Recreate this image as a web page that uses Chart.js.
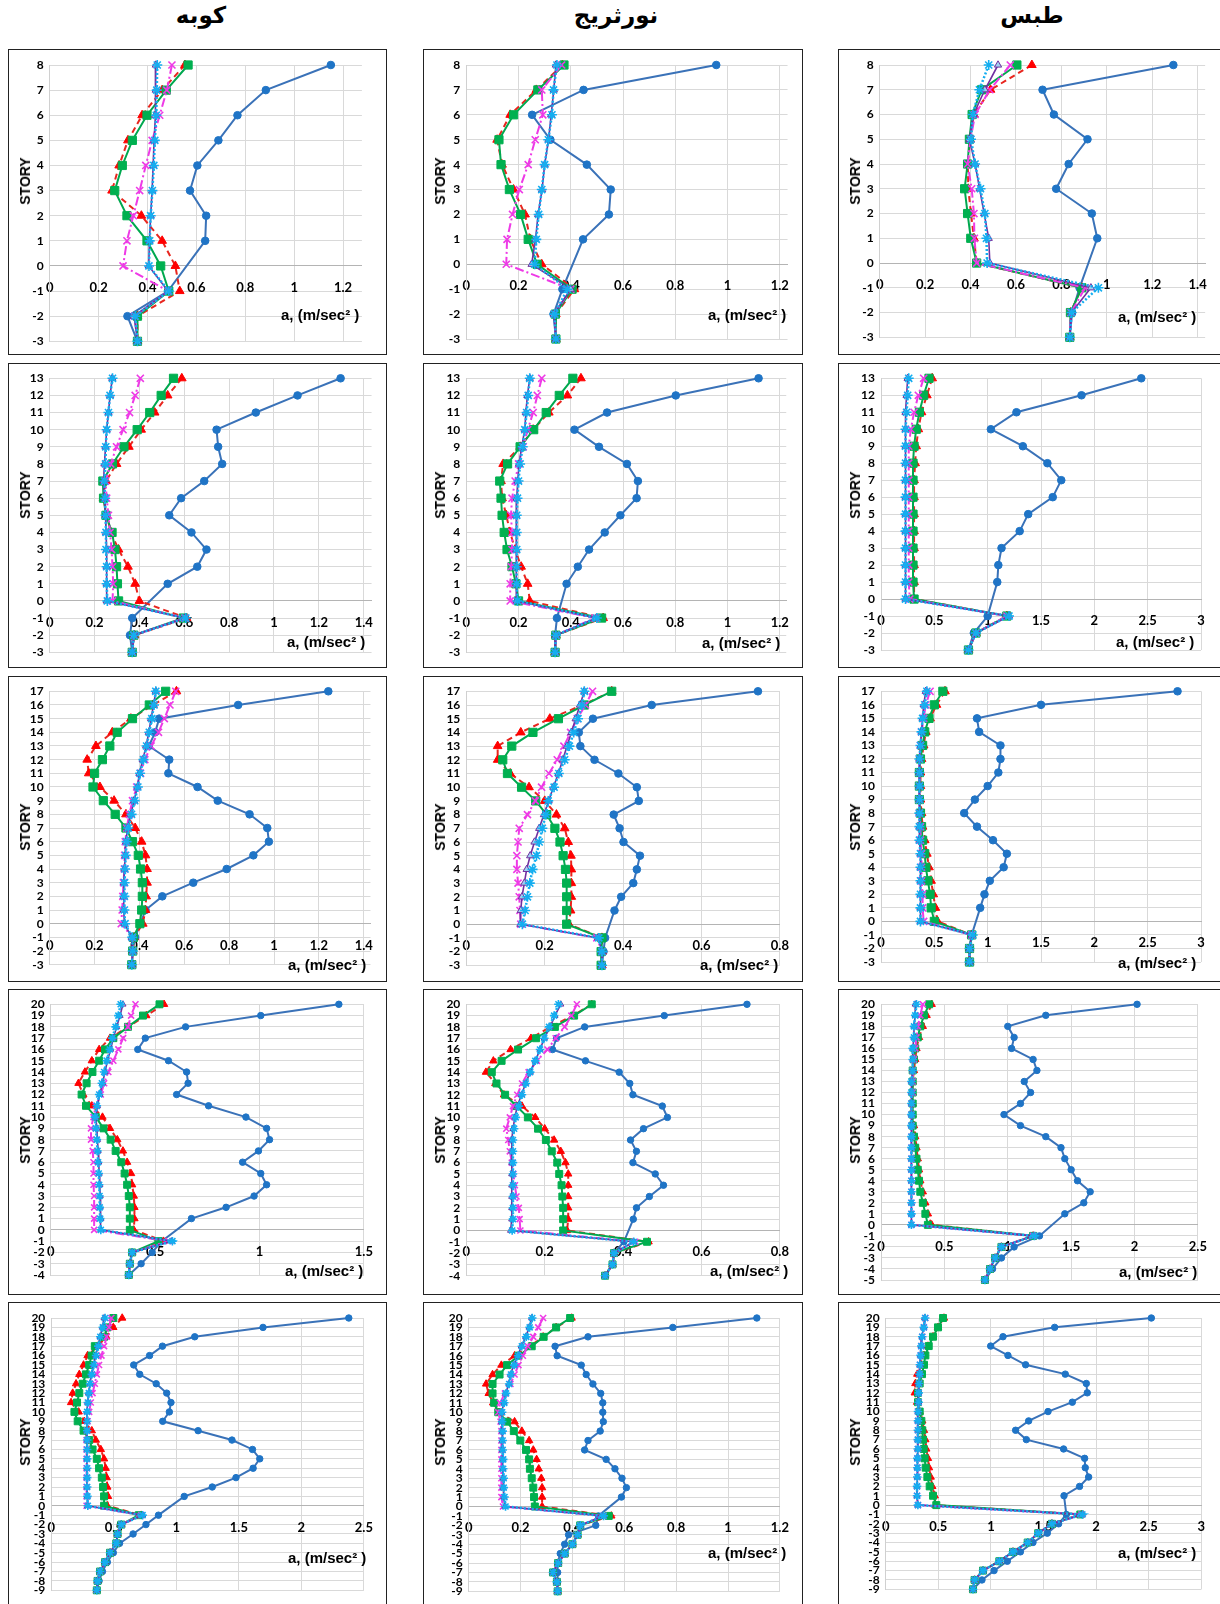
<!DOCTYPE html>
<html>
<head>
<meta charset="utf-8">
<script src="https://cdn.jsdelivr.net/npm/chart.js@4.4.1/dist/chart.umd.min.js"></script>
<style>
  body { margin: 0; background: #fff; }
  #page { position: relative; width: 1220px; height: 1604px; overflow: hidden; background: #fff; }
  .head { position: absolute; top: 2px; font: bold 23px "DejaVu Sans", sans-serif; transform: translateX(-50%); white-space: nowrap; }
  .panel { position: absolute; outline: 1px solid #222; outline-offset: -1px; }
  .panel canvas { position: absolute; left: 0; top: 0; }
  .story { position: absolute; font: bold 14px "Liberation Sans", Arial, sans-serif; transform: translate(-50%, -50%) rotate(-90deg); white-space: nowrap; }
  .unit { position: absolute; font: bold 15px "Liberation Sans", Arial, sans-serif; transform: translateY(-50%); white-space: nowrap; }
</style>
</head>
<body>
<div id="page"></div>
<script>
// story levels, listed from roof down to the lowest basement
const stories8 = [8, 7, 6, 5, 4, 3, 2, 1, 0, -1, -2, -3];
const stories13 = [13, 12, 11, 10, 9, 8, 7, 6, 5, 4, 3, 2, 1, 0, -1, -2, -3];
const stories17 = [17, 16, 15, 14, 13, 12, 11, 10, 9, 8, 7, 6, 5, 4, 3, 2, 1, 0, -1, -2, -3];
const stories20 = [20, 19, 18, 17, 16, 15, 14, 13, 12, 11, 10, 9, 8, 7, 6, 5, 4, 3, 2, 1, 0, -1, -2, -3, -4];
const stories20t = [20, 19, 18, 17, 16, 15, 14, 13, 12, 11, 10, 9, 8, 7, 6, 5, 4, 3, 2, 1, 0, -1, -2, -3, -4, -5];
const stories20b = [20, 19, 18, 17, 16, 15, 14, 13, 12, 11, 10, 9, 8, 7, 6, 5, 4, 3, 2, 1, 0, -1, -2, -3, -4, -5, -6, -7, -8, -9];

// acceleration tick labels
const ticks08 = [0, 0.2, 0.4, 0.6, 0.8];
const ticks12 = [0, 0.2, 0.4, 0.6, 0.8, 1, 1.2];
const ticks14 = [0, 0.2, 0.4, 0.6, 0.8, 1, 1.2, 1.4];
const ticks15 = [0, 0.5, 1, 1.5];
const ticks25 = [0, 0.5, 1, 1.5, 2, 2.5];
const ticks30 = [0, 0.5, 1, 1.5, 2, 2.5, 3];

// Kobe, 8 storeys
const kobe8Circle = [1.15, 0.884, 0.768, 0.69, 0.604, 0.574, 0.64, 0.636, null, 0.484, 0.318, 0.359];
const kobe8Tri = [0.553, 0.46, 0.378, 0.32, 0.284, 0.255, 0.375, 0.46, 0.514, 0.532, 0.359, 0.359];
const kobe8Square = [0.566, 0.477, 0.398, 0.338, 0.297, 0.266, 0.316, 0.398, 0.454, 0.487, 0.359, 0.359];
const kobe8Cross = [0.5, 0.479, 0.45, 0.419, 0.393, 0.368, 0.342, 0.316, 0.3, 0.484, 0.348, 0.359];
const kobe8Line = [0.434, 0.434, 0.431, 0.427, 0.423, 0.419, 0.413, 0.408, 0.405, 0.484, 0.345, 0.359];
const kobe8Star = [0.44, 0.438, 0.436, 0.43, 0.426, 0.42, 0.413, 0.409, 0.406, 0.487, 0.35, 0.359];

// Northridge, 8 storeys
const north8Circle = [0.957, 0.449, 0.252, 0.322, 0.4615, 0.553, 0.546, 0.447, null, 0.368, 0.334, 0.343];
const north8Tri = [0.368, 0.268, 0.168, 0.118, 0.137, 0.181, 0.225, 0.245, 0.289, 0.414, 0.343, 0.343];
const north8Square = [0.374, 0.274, 0.181, 0.125, 0.133, 0.165, 0.208, 0.237, 0.271, 0.405, 0.341, 0.343];
const north8Cross = [0.365, 0.289, 0.293, 0.264, 0.237, 0.203, 0.177, 0.156, 0.153, 0.4, 0.338, 0.343];
const north8Line = [0.343, 0.335, 0.325, 0.315, 0.3, 0.29, 0.275, 0.265, 0.25, 0.4, 0.335, 0.343];
const north8Star = [0.347, 0.334, 0.328, 0.314, 0.3, 0.289, 0.277, 0.268, 0.262, 0.387, 0.338, 0.343];

// Tabas, 8 storeys
const tabas8Circle = [1.293, 0.717, 0.767, 0.915, 0.832, 0.777, 0.934, 0.958, null, 0.88, 0.847, 0.837];
const tabas8Tri = [0.67, 0.488, 0.415, 0.398, 0.388, 0.39, 0.402, 0.415, 0.427, 0.89, 0.84, 0.837];
const tabas8Square = [0.604, 0.449, 0.407, 0.395, 0.387, 0.374, 0.387, 0.401, 0.427, 0.89, 0.84, 0.837];
const tabas8Cross = [0.575, 0.485, 0.42, 0.4, 0.387, 0.405, 0.415, 0.417, 0.427, 0.905, 0.842, 0.837];
const tabas8Line = [0.521, 0.463, 0.413, 0.395, 0.42, 0.44, 0.46, 0.48, 0.485, 0.93, 0.845, 0.837];
const tabas8Star = [0.48, 0.439, 0.41, 0.402, 0.42, 0.444, 0.463, 0.47, 0.473, 0.963, 0.845, 0.837];

// Kobe, 13 storeys
const kobe13Circle = [1.297, 1.105, 0.919, 0.744, 0.751, 0.769, 0.689, 0.586, 0.533, 0.632, 0.699, 0.658, 0.526, null, 0.368, 0.358, 0.368];
const kobe13Tri = [0.589, 0.526, 0.468, 0.408, 0.353, 0.298, 0.251, 0.24, 0.254, 0.273, 0.307, 0.349, 0.381, 0.4, 0.61, 0.378, 0.368];
const kobe13Square = [0.552, 0.497, 0.446, 0.39, 0.331, 0.28, 0.237, 0.24, 0.251, 0.278, 0.291, 0.298, 0.302, 0.307, 0.596, 0.375, 0.368];
const kobe13Cross = [0.404, 0.381, 0.356, 0.327, 0.298, 0.272, 0.249, 0.254, 0.262, 0.269, 0.276, 0.28, 0.283, 0.28, 0.603, 0.375, 0.368];
const kobe13Line = [0.279, 0.269, 0.262, 0.254, 0.249, 0.244, 0.24, 0.244, 0.249, 0.251, 0.254, 0.254, 0.254, 0.254, 0.603, 0.375, 0.368];
const kobe13Star = [0.28, 0.269, 0.262, 0.254, 0.25, 0.249, 0.244, 0.247, 0.249, 0.251, 0.251, 0.254, 0.254, 0.257, 0.607, 0.375, 0.368];

// Northridge, 13 storeys
const north13Circle = [1.119, 0.802, 0.539, 0.414, 0.508, 0.615, 0.657, 0.652, 0.59, 0.53, 0.47, 0.427, 0.384, null, 0.347, 0.34, 0.34];
const north13Tri = [0.439, 0.387, 0.316, 0.256, 0.206, 0.141, 0.133, 0.137, 0.153, 0.168, 0.187, 0.21, 0.235, 0.243, 0.524, 0.343, 0.34];
const north13Square = [0.408, 0.356, 0.306, 0.258, 0.206, 0.158, 0.128, 0.133, 0.137, 0.145, 0.156, 0.175, 0.19, 0.2, 0.518, 0.343, 0.34];
const north13Cross = [0.289, 0.272, 0.256, 0.235, 0.218, 0.2, 0.187, 0.175, 0.171, 0.175, 0.175, 0.172, 0.168, 0.168, 0.493, 0.343, 0.34];
const north13Line = [0.243, 0.234, 0.228, 0.224, 0.212, 0.202, 0.197, 0.193, 0.191, 0.191, 0.191, 0.191, 0.191, 0.193, 0.497, 0.343, 0.34];
const north13Star = [0.243, 0.237, 0.231, 0.224, 0.216, 0.206, 0.2, 0.196, 0.193, 0.193, 0.193, 0.193, 0.193, 0.196, 0.5, 0.343, 0.34];

// Tabas, 13 storeys
const tabas13Circle = [2.44, 1.88, 1.27, 1.03, 1.33, 1.56, 1.69, 1.61, 1.38, 1.3, 1.13, 1.1, 1.09, null, 1.0, 0.87, 0.82];
const tabas13Tri = [0.48, 0.43, 0.38, 0.35, 0.33, 0.32, 0.31, 0.31, 0.31, 0.31, 0.31, 0.31, 0.31, 0.31, 1.18, 0.89, 0.82];
const tabas13Square = [0.45, 0.4, 0.36, 0.33, 0.31, 0.3, 0.3, 0.3, 0.3, 0.3, 0.3, 0.3, 0.3, 0.31, 1.18, 0.89, 0.82];
const tabas13Cross = [0.4, 0.35, 0.31, 0.28, 0.26, 0.26, 0.26, 0.26, 0.26, 0.26, 0.26, 0.26, 0.26, 0.27, 1.18, 0.89, 0.82];
const tabas13Line = [0.25, 0.24, 0.23, 0.23, 0.23, 0.23, 0.23, 0.23, 0.23, 0.23, 0.23, 0.23, 0.23, 0.23, 1.2, 0.89, 0.82];
const tabas13Star = [0.26, 0.25, 0.24, 0.23, 0.23, 0.23, 0.23, 0.23, 0.23, 0.23, 0.23, 0.23, 0.23, 0.23, 1.2, 0.89, 0.82];

// Kobe, 17 storeys
const kobe17Circle = [1.242, 0.84, 0.488, 0.47, 0.442, 0.533, 0.529, 0.659, 0.749, 0.891, 0.97, 0.977, 0.908, 0.789, 0.64, 0.502, 0.427, null, 0.381, 0.369, 0.366];
const kobe17Tri = [0.565, 0.46, 0.362, 0.279, 0.206, 0.167, 0.174, 0.224, 0.287, 0.34, 0.381, 0.41, 0.427, 0.434, 0.434, 0.43, 0.427, 0.415, 0.376, 0.37, 0.366];
const kobe17Square = [0.517, 0.444, 0.369, 0.301, 0.268, 0.235, 0.2, 0.193, 0.239, 0.292, 0.34, 0.369, 0.395, 0.405, 0.413, 0.413, 0.41, 0.402, 0.373, 0.37, 0.366];
const kobe17Cross = [0.562, 0.536, 0.511, 0.485, 0.452, 0.424, 0.405, 0.388, 0.369, 0.355, 0.343, 0.337, 0.334, 0.333, 0.329, 0.326, 0.323, 0.319, 0.369, 0.37, 0.366];
const kobe17Line = [0.473, 0.463, 0.452, 0.442, 0.43, 0.415, 0.4, 0.391, 0.376, 0.362, 0.347, 0.34, 0.337, 0.333, 0.33, 0.33, 0.33, 0.333, 0.366, 0.37, 0.366];
const kobe17Star = [0.473, 0.465, 0.455, 0.444, 0.432, 0.418, 0.403, 0.393, 0.379, 0.365, 0.35, 0.343, 0.339, 0.336, 0.334, 0.333, 0.333, 0.336, 0.368, 0.37, 0.366];

// Northridge, 17 storeys
const north17Circle = [0.744, 0.473, 0.323, 0.287, 0.291, 0.327, 0.388, 0.435, 0.44, 0.376, 0.391, 0.401, 0.443, 0.435, 0.426, 0.395, 0.378, null, 0.354, 0.35, 0.346];
const north17Tri = [0.371, 0.297, 0.213, 0.139, 0.08, 0.08, 0.112, 0.16, 0.2, 0.23, 0.251, 0.26, 0.267, 0.268, 0.268, 0.268, 0.266, 0.262, 0.346, 0.346, 0.346];
const north17Square = [0.371, 0.301, 0.235, 0.17, 0.116, 0.093, 0.105, 0.141, 0.177, 0.205, 0.226, 0.239, 0.247, 0.253, 0.256, 0.256, 0.256, 0.256, 0.346, 0.344, 0.344];
const north17Cross = [0.322, 0.304, 0.283, 0.266, 0.249, 0.232, 0.211, 0.192, 0.176, 0.156, 0.135, 0.132, 0.129, 0.129, 0.132, 0.135, 0.137, 0.139, 0.333, 0.346, 0.346];
const north17Line = [0.301, 0.29, 0.279, 0.268, 0.257, 0.246, 0.235, 0.222, 0.21, 0.198, 0.186, 0.174, 0.163, 0.154, 0.148, 0.142, 0.139, 0.138, 0.336, 0.346, 0.346];
const north17Star = [0.301, 0.295, 0.285, 0.274, 0.263, 0.251, 0.236, 0.224, 0.209, 0.203, 0.194, 0.186, 0.179, 0.169, 0.162, 0.156, 0.15, 0.143, 0.338, 0.346, 0.346];

// Tabas, 17 storeys
const tabas17Circle = [2.78, 1.5, 0.9, 0.92, 1.12, 1.12, 1.1, 1.0, 0.88, 0.78, 0.9, 1.05, 1.18, 1.15, 1.02, 0.97, 0.93, null, 0.85, 0.83, 0.83];
const tabas17Tri = [0.6, 0.52, 0.46, 0.42, 0.4, 0.38, 0.37, 0.37, 0.37, 0.38, 0.39, 0.41, 0.43, 0.45, 0.47, 0.49, 0.51, 0.53, 0.85, 0.83, 0.83];
const tabas17Square = [0.58, 0.5, 0.45, 0.41, 0.39, 0.37, 0.36, 0.36, 0.36, 0.37, 0.38, 0.39, 0.41, 0.42, 0.44, 0.46, 0.47, 0.5, 0.85, 0.83, 0.83];
const tabas17Cross = [0.46, 0.42, 0.4, 0.38, 0.37, 0.36, 0.36, 0.36, 0.36, 0.36, 0.37, 0.37, 0.38, 0.38, 0.38, 0.39, 0.39, 0.4, 0.85, 0.83, 0.83];
const tabas17Line = [0.42, 0.4, 0.39, 0.38, 0.37, 0.36, 0.36, 0.36, 0.36, 0.36, 0.36, 0.36, 0.37, 0.37, 0.37, 0.37, 0.37, 0.37, 0.85, 0.83, 0.83];
const tabas17Star = [0.43, 0.41, 0.39, 0.38, 0.37, 0.36, 0.36, 0.36, 0.36, 0.36, 0.36, 0.36, 0.37, 0.37, 0.37, 0.37, 0.37, 0.37, 0.86, 0.83, 0.83];

// Kobe, 20 storeys with 4 basements
const kobe20Circle = [1.38, 1.006, 0.646, 0.453, 0.417, 0.564, 0.651, 0.658, 0.603, 0.756, 0.935, 1.034, 1.048, 0.995, 0.919, 1.006, 1.034, 0.974, 0.84, 0.674, null, 0.532, 0.486, 0.433, 0.374];
const kobe20Tri = [0.543, 0.458, 0.37, 0.284, 0.232, 0.197, 0.164, 0.133, 0.156, 0.197, 0.248, 0.284, 0.319, 0.346, 0.366, 0.385, 0.39, 0.398, 0.401, 0.401, 0.398, 0.54, 0.39, 0.379, 0.374];
const kobe20Square = [0.521, 0.442, 0.37, 0.3, 0.26, 0.232, 0.2, 0.172, 0.148, 0.169, 0.216, 0.253, 0.287, 0.311, 0.338, 0.354, 0.366, 0.374, 0.379, 0.379, 0.379, 0.516, 0.39, 0.379, 0.374];
const kobe20Cross = [0.406, 0.385, 0.37, 0.347, 0.324, 0.3, 0.276, 0.256, 0.24, 0.216, 0.205, 0.193, 0.193, 0.201, 0.205, 0.205, 0.205, 0.208, 0.208, 0.208, 0.208, 0.564, 0.39, 0.379, 0.374];
const kobe20Line = [0.346, 0.332, 0.316, 0.3, 0.287, 0.272, 0.26, 0.248, 0.235, 0.224, 0.216, 0.221, 0.224, 0.227, 0.23, 0.232, 0.235, 0.237, 0.237, 0.24, 0.24, 0.58, 0.39, 0.379, 0.374];
const kobe20Star = [0.335, 0.324, 0.311, 0.295, 0.283, 0.268, 0.256, 0.245, 0.232, 0.221, 0.212, 0.216, 0.221, 0.224, 0.227, 0.23, 0.232, 0.234, 0.235, 0.237, 0.24, 0.583, 0.39, 0.379, 0.374];

// Northridge, 20 storeys with 4 basements
const north20Circle = [0.716, 0.505, 0.302, 0.23, 0.22, 0.304, 0.39, 0.417, 0.425, 0.5, 0.513, 0.452, 0.419, 0.434, 0.425, 0.482, 0.503, 0.467, 0.434, 0.426, null, 0.402, 0.377, 0.373, 0.354];
const north20Tri = [0.32, 0.272, 0.214, 0.165, 0.113, 0.069, 0.05, 0.074, 0.096, 0.142, 0.176, 0.2, 0.224, 0.241, 0.253, 0.26, 0.26, 0.26, 0.26, 0.26, 0.257, 0.465, 0.377, 0.373, 0.354];
const north20Square = [0.32, 0.275, 0.226, 0.178, 0.132, 0.09, 0.065, 0.077, 0.099, 0.128, 0.157, 0.183, 0.203, 0.218, 0.232, 0.237, 0.243, 0.245, 0.247, 0.247, 0.247, 0.461, 0.377, 0.373, 0.354];
const north20Cross = [0.282, 0.268, 0.251, 0.228, 0.207, 0.18, 0.159, 0.142, 0.13, 0.119, 0.111, 0.102, 0.107, 0.111, 0.116, 0.12, 0.124, 0.128, 0.134, 0.136, 0.138, 0.431, 0.377, 0.373, 0.354];
const north20Line = [0.241, 0.226, 0.214, 0.199, 0.188, 0.176, 0.163, 0.151, 0.141, 0.13, 0.124, 0.119, 0.116, 0.116, 0.116, 0.116, 0.116, 0.116, 0.116, 0.116, 0.113, 0.427, 0.377, 0.373, 0.354];
const north20Star = [0.235, 0.224, 0.211, 0.199, 0.188, 0.176, 0.163, 0.152, 0.142, 0.134, 0.126, 0.122, 0.119, 0.119, 0.119, 0.119, 0.119, 0.119, 0.119, 0.119, 0.117, 0.427, 0.377, 0.373, 0.354];

// Tabas, 20 storeys with 5 basements
const tabas20Circle = [2.02, 1.3, 1.0, 1.05, 1.03, 1.2, 1.23, 1.13, 1.18, 1.1, 0.97, 1.1, 1.3, 1.42, 1.45, 1.5, 1.55, 1.65, 1.6, 1.45, null, 1.25, 1.05, 0.95, 0.88, 0.82];
const tabas20Tri = [0.4, 0.36, 0.33, 0.3, 0.28, 0.27, 0.26, 0.25, 0.25, 0.25, 0.25, 0.26, 0.27, 0.28, 0.29, 0.3, 0.31, 0.33, 0.35, 0.37, 0.4, 1.2, 0.95, 0.9, 0.86, 0.82];
const tabas20Square = [0.38, 0.34, 0.31, 0.29, 0.27, 0.26, 0.25, 0.25, 0.25, 0.25, 0.25, 0.25, 0.26, 0.27, 0.28, 0.29, 0.3, 0.31, 0.33, 0.35, 0.37, 1.2, 0.95, 0.9, 0.86, 0.82];
const tabas20Cross = [0.33, 0.31, 0.29, 0.28, 0.27, 0.26, 0.25, 0.25, 0.25, 0.24, 0.24, 0.24, 0.24, 0.24, 0.24, 0.24, 0.24, 0.24, 0.24, 0.24, 0.24, 1.2, 0.95, 0.9, 0.86, 0.82];
const tabas20Line = [0.27, 0.27, 0.26, 0.26, 0.25, 0.25, 0.25, 0.24, 0.24, 0.24, 0.24, 0.24, 0.24, 0.24, 0.24, 0.24, 0.24, 0.24, 0.24, 0.24, 0.24, 1.2, 0.95, 0.9, 0.86, 0.82];
const tabas20Star = [0.28, 0.27, 0.26, 0.26, 0.25, 0.25, 0.25, 0.24, 0.24, 0.24, 0.24, 0.24, 0.24, 0.24, 0.24, 0.24, 0.24, 0.24, 0.24, 0.24, 0.24, 1.21, 0.95, 0.9, 0.86, 0.82];

// Kobe, 20 storeys with 9 basements
const kobe20bCircle = [2.379, 1.693, 1.147, 0.889, 0.786, 0.659, 0.707, 0.839, 0.923, 0.957, 0.944, 0.891, 1.174, 1.445, 1.609, 1.667, 1.614, 1.477, 1.287, 1.063, null, 0.857, 0.757, 0.654, 0.546, 0.496, 0.448, 0.409, 0.382, 0.364];
const kobe20bTri = [0.567, 0.496, 0.44, 0.37, 0.29, 0.258, 0.224, 0.198, 0.171, 0.158, 0.219, 0.264, 0.324, 0.356, 0.396, 0.422, 0.435, 0.443, 0.448, 0.454, 0.448, 0.72, 0.56, 0.53, 0.52, 0.47, 0.43, 0.39, 0.37, 0.364];
const kobe20bSquare = [0.496, 0.448, 0.422, 0.348, 0.322, 0.303, 0.277, 0.251, 0.224, 0.206, 0.185, 0.211, 0.258, 0.303, 0.33, 0.364, 0.382, 0.404, 0.414, 0.422, 0.422, 0.7, 0.56, 0.53, 0.52, 0.47, 0.43, 0.39, 0.37, 0.364];
const kobe20bCross = [0.48, 0.461, 0.443, 0.422, 0.401, 0.382, 0.364, 0.348, 0.33, 0.316, 0.303, 0.29, 0.285, 0.282, 0.282, 0.282, 0.282, 0.282, 0.282, 0.282, 0.282, 0.72, 0.56, 0.53, 0.52, 0.47, 0.43, 0.39, 0.37, 0.364];
const kobe20bLine = [0.422, 0.409, 0.39, 0.374, 0.356, 0.338, 0.322, 0.309, 0.298, 0.29, 0.285, 0.285, 0.285, 0.285, 0.285, 0.285, 0.285, 0.285, 0.285, 0.288, 0.29, 0.73, 0.56, 0.53, 0.52, 0.47, 0.43, 0.39, 0.37, 0.364];
const kobe20bStar = [0.43, 0.412, 0.392, 0.376, 0.358, 0.34, 0.324, 0.31, 0.3, 0.292, 0.287, 0.287, 0.287, 0.287, 0.287, 0.287, 0.287, 0.287, 0.287, 0.289, 0.292, 0.73, 0.56, 0.53, 0.52, 0.47, 0.43, 0.39, 0.37, 0.364];

// Northridge, 20 storeys with 9 basements
const north20bCircle = [1.111, 0.787, 0.46, 0.333, 0.341, 0.434, 0.453, 0.479, 0.509, 0.517, 0.517, 0.519, 0.507, 0.46, 0.447, 0.53, 0.564, 0.591, 0.608, 0.589, null, 0.5, 0.49, 0.385, 0.37, 0.353, 0.343, 0.343, 0.343, 0.343];
const north20bTri = [0.397, 0.337, 0.287, 0.236, 0.177, 0.126, 0.092, 0.067, 0.077, 0.094, 0.117, 0.177, 0.205, 0.233, 0.249, 0.262, 0.27, 0.28, 0.283, 0.283, 0.283, 0.55, 0.43, 0.42, 0.4, 0.37, 0.345, 0.325, 0.34, 0.343];
const north20bSquare = [0.391, 0.337, 0.289, 0.243, 0.192, 0.148, 0.119, 0.092, 0.092, 0.098, 0.114, 0.148, 0.174, 0.199, 0.221, 0.233, 0.236, 0.243, 0.249, 0.252, 0.255, 0.54, 0.43, 0.42, 0.4, 0.37, 0.345, 0.325, 0.34, 0.343];
const north20bCross = [0.287, 0.268, 0.249, 0.228, 0.209, 0.192, 0.177, 0.161, 0.14, 0.121, 0.114, 0.123, 0.126, 0.126, 0.126, 0.126, 0.126, 0.126, 0.126, 0.126, 0.132, 0.52, 0.43, 0.42, 0.4, 0.37, 0.345, 0.325, 0.34, 0.343];
const north20bLine = [0.243, 0.233, 0.22, 0.203, 0.189, 0.174, 0.161, 0.155, 0.142, 0.136, 0.127, 0.127, 0.129, 0.129, 0.129, 0.132, 0.132, 0.133, 0.133, 0.136, 0.14, 0.52, 0.43, 0.42, 0.4, 0.37, 0.345, 0.325, 0.34, 0.343];
const north20bStar = [0.245, 0.235, 0.222, 0.205, 0.19, 0.176, 0.163, 0.156, 0.144, 0.137, 0.129, 0.129, 0.131, 0.131, 0.131, 0.133, 0.133, 0.135, 0.135, 0.138, 0.142, 0.52, 0.43, 0.42, 0.4, 0.37, 0.345, 0.325, 0.34, 0.343];

// Tabas, 20 storeys with 9 basements
const tabas20bCircle = [2.525, 1.606, 1.115, 0.998, 1.162, 1.33, 1.707, 1.907, 1.916, 1.774, 1.543, 1.359, 1.235, 1.337, 1.691, 1.891, 1.897, 1.929, 1.843, 1.695, null, 1.717, 1.644, 1.536, 1.4, 1.28, 1.156, 1.03, 0.915, 0.83];
const tabas20bTri = [0.554, 0.497, 0.45, 0.402, 0.364, 0.339, 0.3, 0.282, 0.276, 0.298, 0.323, 0.348, 0.364, 0.377, 0.386, 0.402, 0.412, 0.428, 0.443, 0.466, 0.472, 1.86, 1.58, 1.45, 1.35, 1.21, 1.08, 0.925, 0.845, 0.83];
const tabas20bSquare = [0.545, 0.497, 0.45, 0.409, 0.377, 0.364, 0.345, 0.323, 0.307, 0.307, 0.323, 0.339, 0.348, 0.355, 0.361, 0.37, 0.38, 0.396, 0.418, 0.45, 0.481, 1.85, 1.58, 1.45, 1.35, 1.21, 1.08, 0.925, 0.845, 0.83];
const tabas20bCross = [0.377, 0.364, 0.348, 0.339, 0.333, 0.326, 0.323, 0.317, 0.314, 0.314, 0.307, 0.307, 0.307, 0.307, 0.307, 0.301, 0.301, 0.301, 0.298, 0.298, 0.307, 1.86, 1.58, 1.45, 1.35, 1.21, 1.08, 0.925, 0.845, 0.83];
const tabas20bLine = [0.37, 0.36, 0.345, 0.336, 0.33, 0.324, 0.32, 0.315, 0.312, 0.312, 0.306, 0.306, 0.306, 0.304, 0.304, 0.3, 0.3, 0.3, 0.297, 0.297, 0.305, 1.87, 1.58, 1.45, 1.35, 1.21, 1.08, 0.925, 0.845, 0.83];
const tabas20bStar = [0.375, 0.362, 0.347, 0.338, 0.332, 0.325, 0.322, 0.316, 0.313, 0.313, 0.307, 0.307, 0.306, 0.305, 0.305, 0.301, 0.301, 0.3, 0.298, 0.298, 0.306, 1.87, 1.58, 1.45, 1.35, 1.21, 1.08, 0.925, 0.845, 0.83];

// how each of the six curves is drawn
const seriesStyles = [
  { line: '#3a72b8', fill: '#1f74c6', edge: '#1f74c6', point: 'circle', r: 3.8, dash: [], w: 2 },
  { line: '#e8261f', fill: '#ff0000', edge: '#ff0000', point: 'triangle', r: 5, dash: [6, 4], w: 2 },
  { line: '#00a84f', fill: '#00b050', edge: '#00b050', point: 'rect', r: 5.8, dash: [], w: 2 },
  { line: '#ee3ae6', fill: '#ee3ae6', edge: '#ee3ae6', point: 'crossRot', r: 5, dash: [9, 3, 2, 3], w: 2 },
  { line: '#7030a0', fill: '#9fd0f0', edge: '#7030a0', point: 'triangle', r: 4.2, dash: [], w: 1.6 },
  { line: '#14aef0', fill: '#14aef0', edge: '#14aef0', point: 'star', r: 5, dash: [2, 2], w: 2.5 }
];

// panel grid
const colX = [8, 423, 838];
const colW = [379, 380, 383];
const rowY = [49, 363, 676, 989, 1302];
const rowH = [306, 305, 306, 306, 304];
const storyTitleY = [132, 132, 151, 151, 140];
const headings = ['کوبه', 'نورثریج', 'طبس'];
const headingX = [201, 616, 1032];

const panels = [
  { col: 0, row: 0, stories: stories8, ticks: ticks12, xMax: 1.277, plot: [41.7, 16, 353.9, 292.3], unit: [273, 265],
    series: [kobe8Circle, kobe8Tri, kobe8Square, kobe8Cross, kobe8Line, kobe8Star] },
  { col: 1, row: 0, stories: stories8, ticks: ticks12, xMax: 1.23, plot: [43.3, 16, 371.7, 290], unit: [285, 265],
    series: [north8Circle, north8Tri, north8Square, north8Cross, north8Line, north8Star] },
  { col: 2, row: 0, stories: stories8, ticks: ticks14, xMax: 1.433, plot: [41.7, 16, 371.7, 288.3], unit: [280, 267],
    series: [tabas8Circle, tabas8Tri, tabas8Square, tabas8Cross, tabas8Line, tabas8Star] },
  { col: 0, row: 1, stories: stories13, ticks: ticks14, xMax: 1.435, plot: [41.7, 15.3, 370.7, 289.3], unit: [279, 278],
    series: [kobe13Circle, kobe13Tri, kobe13Square, kobe13Cross, kobe13Line, kobe13Star] },
  { col: 1, row: 1, stories: stories13, ticks: ticks12, xMax: 1.225, plot: [43.3, 15.3, 370.7, 289.3], unit: [279, 279],
    series: [north13Circle, north13Tri, north13Square, north13Cross, north13Line, north13Star] },
  { col: 2, row: 1, stories: stories13, ticks: ticks30, xMax: 3, plot: [43, 15.3, 363, 287], unit: [278, 278],
    series: [tabas13Circle, tabas13Tri, tabas13Square, tabas13Cross, tabas13Line, tabas13Star] },
  { col: 0, row: 2, stories: stories17, ticks: ticks14, xMax: 1.43, plot: [41.7, 15.3, 370.7, 288.7], unit: [280, 288],
    series: [kobe17Circle, kobe17Tri, kobe17Square, kobe17Cross, kobe17Line, kobe17Star] },
  { col: 1, row: 2, stories: stories17, ticks: ticks08, xMax: 0.8, plot: [43.3, 15.3, 359.3, 289.3], unit: [277, 288],
    series: [north17Circle, north17Tri, north17Square, north17Cross, north17Line, north17Star] },
  { col: 2, row: 2, stories: stories17, ticks: ticks30, xMax: 3, plot: [43, 15.3, 363, 286], unit: [280, 286],
    series: [tabas17Circle, tabas17Tri, tabas17Square, tabas17Cross, tabas17Line, tabas17Star] },
  { col: 0, row: 3, stories: stories20, ticks: ticks15, xMax: 1.5, plot: [42.7, 15.3, 359.3, 286], unit: [277, 281],
    series: [kobe20Circle, kobe20Tri, kobe20Square, kobe20Cross, kobe20Line, kobe20Star] },
  { col: 1, row: 3, stories: stories20, ticks: ticks08, xMax: 0.8, plot: [43.3, 15.3, 361.7, 286.7], unit: [287, 281],
    series: [north20Circle, north20Tri, north20Square, north20Cross, north20Line, north20Star] },
  { col: 2, row: 3, stories: stories20t, ticks: ticks25, xMax: 2.5, plot: [43, 15.3, 363, 291], unit: [281, 282],
    series: [tabas20Circle, tabas20Tri, tabas20Square, tabas20Cross, tabas20Line, tabas20Star] },
  { col: 0, row: 4, stories: stories20b, ticks: ticks25, xMax: 2.5, plot: [43.3, 16, 359.3, 288.3], unit: [280, 255],
    series: [kobe20bCircle, kobe20bTri, kobe20bSquare, kobe20bCross, kobe20bLine, kobe20bStar] },
  { col: 1, row: 4, stories: stories20b, ticks: ticks12, xMax: 1.2, plot: [45.7, 16, 363.3, 289.3], unit: [285, 250],
    series: [north20bCircle, north20bTri, north20bSquare, north20bCross, north20bLine, north20bStar] },
  { col: 2, row: 4, stories: stories20b, ticks: ticks30, xMax: 3, plot: [47.7, 16, 363.3, 287.3], unit: [280, 250],
    series: [tabas20bCircle, tabas20bTri, tabas20bSquare, tabas20bCross, tabas20bLine, tabas20bStar] }
];

const page = document.getElementById('page');
const Y_AXIS_W = 34;

headings.forEach((h, i) => {
  const d = document.createElement('div');
  d.className = 'head';
  d.dir = 'rtl';
  d.style.left = headingX[i] + 'px';
  d.textContent = h;
  page.appendChild(d);
});

function makeDatasets(p) {
  const shrink = p.row >= 3 ? 0.85 : 1;
  return p.series.map((vals, k) => {
    const st = seriesStyles[k];
    const pts = [];
    p.stories.forEach((s, i) => { if (vals[i] !== null) pts.push({ x: vals[i], y: s }); });
    return {
      data: pts,
      borderColor: st.line,
      borderWidth: st.w,
      borderDash: st.dash,
      pointStyle: st.point,
      pointRadius: st.r * shrink,
      pointBackgroundColor: st.fill,
      pointBorderColor: st.edge,
      pointBorderWidth: st.point === 'crossRot' || st.point === 'star' ? 1.6 : 1,
      tension: 0,
      clip: false,
      order: 5 - k
    };
  });
}

panels.forEach(p => {
  const W = colW[p.col], H = rowH[p.row];
  const box = document.createElement('div');
  box.className = 'panel';
  box.style.left = colX[p.col] + 'px';
  box.style.top = rowY[p.row] + 'px';
  box.style.width = W + 'px';
  box.style.height = H + 'px';
  const cv = document.createElement('canvas');
  cv.width = W; cv.height = H;
  cv.style.width = W + 'px'; cv.style.height = H + 'px';
  box.appendChild(cv);

  const st = document.createElement('div');
  st.className = 'story';
  st.style.left = '16.5px';
  st.style.top = storyTitleY[p.row] + 'px';
  st.textContent = 'STORY';
  box.appendChild(st);

  const un = document.createElement('div');
  un.className = 'unit';
  un.style.left = p.unit[0] + 'px';
  un.style.top = p.unit[1] + 'px';
  un.textContent = 'a, (m/sec² )';
  box.appendChild(un);
  page.appendChild(box);

  const [l, t, r, b] = p.plot;
  const yTicks = p.stories.slice().sort((a, c) => a - c);
  const xTicks = p.ticks;
  new Chart(cv, {
    type: 'line',
    data: { datasets: makeDatasets(p) },
    options: {
      responsive: false,
      animation: false,
      devicePixelRatio: 1,
      events: [],
      layout: { padding: { left: l - Y_AXIS_W, top: t, right: W - r, bottom: H - b } },
      plugins: { legend: { display: false }, tooltip: { enabled: false } },
      scales: {
        x: {
          type: 'linear',
          position: { y: 0 },
          min: 0,
          max: p.xMax,
          afterBuildTicks: s => { s.ticks = xTicks.map(v => ({ value: v })); },
          ticks: {
            autoSkip: false, maxRotation: 0, padding: 14, color: '#000',
            font: { family: 'Lato', weight: 'bold', size: 13 },
            callback: v => String(v)
          },
          grid: { color: '#d9d9d9', drawTicks: false },
          border: { color: '#b4b4b4' }
        },
        y: {
          type: 'linear',
          position: 'left',
          min: yTicks[0],
          max: yTicks[yTicks.length - 1],
          afterBuildTicks: s => { s.ticks = yTicks.map(v => ({ value: v })); },
          afterFit: s => { s.width = Y_AXIS_W; },
          ticks: {
            autoSkip: false, padding: 6, color: '#000',
            font: { family: 'Lato', weight: 'bold', size: 12 },
            callback: v => String(v)
          },
          grid: { color: '#d9d9d9', drawTicks: false },
          border: { color: '#d0d0d0' }
        }
      }
    }
  });
});
</script>
</body>
</html>
